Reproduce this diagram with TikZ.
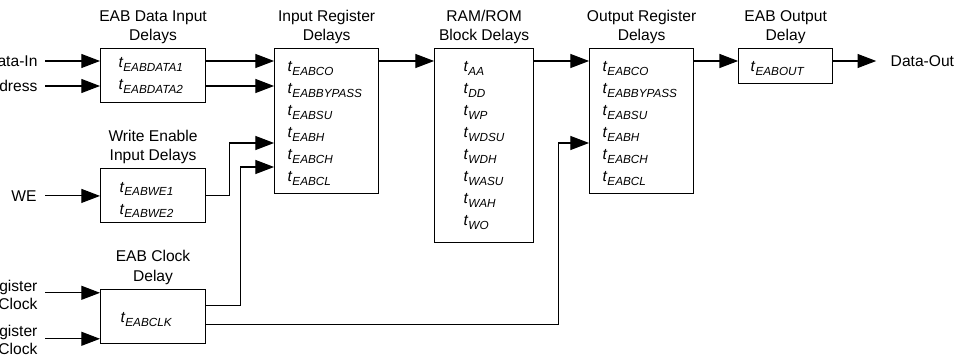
\documentclass[tikz,border=0pt]{standalone}
\usepackage{fontspec}
\setmainfont{Liberation Sans}
\usepackage{tikz}
\usetikzlibrary{arrows.meta, calc, positioning}

\newcommand{\tdel}[1]{\textit{t}\raisebox{-2.6pt}{\fontsize{8.8}{9}\selectfont\itshape #1}}

\tikzset{
  delaybox/.style={draw, inner sep=0pt},
  boxtitle/.style={align=center, inner sep=0pt, font=\fontsize{11.7}{14.6}\selectfont},
  entry/.style={anchor=base west, inner sep=0pt, font=\fontsize{11.7}{14}\selectfont},
  sig/.style={anchor=east, inner sep=0pt, align=right, font=\fontsize{11.7}{13.5}\selectfont},
}

\begin{document}
\begin{tikzpicture}[x=0.75pt, y=-0.75pt, >={Triangle[length=14pt,width=10.5pt]}, line width=0.8pt]
\useasboundingbox (0,0) rectangle (957,359);
\clip (0,0) rectangle (957,359);

\node[delaybox, anchor=north west, minimum width=78.75pt, minimum height=40.5pt] (dat) at (100,48) {};
\node[delaybox, below=49pt of dat, minimum width=78.75pt, minimum height=40.5pt] (we) {};
\node[delaybox, below=49pt of we, minimum width=78.75pt, minimum height=40.5pt] (clk) {};
\node[delaybox, below right=0pt and 51pt of dat.north east, minimum width=78pt, minimum height=108.75pt] (inreg) {};
\node[delaybox, below right=0pt and 41.2pt of inreg.north east, minimum width=74.25pt, minimum height=145.5pt] (ram) {};
\node[delaybox, below right=0pt and 41.2pt of ram.north east, minimum width=78pt, minimum height=108.75pt] (outreg) {};
\node[delaybox, below right=0pt and 33pt of outreg.north east, minimum width=70.5pt, minimum height=26.25pt] (eabout) {};

\node[boxtitle, above=2.75pt of dat] (dat-t) {EAB Data Input\\Delays};
\node[boxtitle, above=2.75pt of we] (we-t) {Write Enable\\Input Delays};
\node[boxtitle, above=2.75pt of clk] (clk-t) {EAB Clock\\Delay};
\node[boxtitle, above=2.75pt of inreg] (inreg-t) {Input Register\\Delays};
\node[boxtitle, above=2.75pt of ram] (ram-t) {RAM/ROM\\Block Delays};
\node[boxtitle, above=2.75pt of outreg] (outreg-t) {Output Register\\Delays};
\node[boxtitle, above=2.75pt of eabout] (eabout-t) {EAB Output\\Delay};

\foreach \s [count=\i] in {EABDATA1, EABDATA2}
  \node[entry] (dat-\i) at ($(dat.north west)+(18,{-2+22*\i})$) {\tdel{\s}};
\foreach \s [count=\i] in {EABWE1, EABWE2}
  \node[entry] (we-\i) at ($(we.north west)+(19,{2+22*\i})$) {\tdel{\s}};
\node[entry] (clk-1) at ($(clk.north west)+(20,34)$) {\tdel{EABCLK}};
\foreach \s [count=\i] in {EABCO, EABBYPASS, EABSU, EABH, EABCH, EABCL}
  \node[entry] (inreg-\i) at ($(inreg.north west)+(13,{2+22*\i})$) {\tdel{\s}};
\foreach \s [count=\i] in {AA, DD, WP, WDSU, WDH, WASU, WAH, WO}
  \node[entry] (ram-\i) at ($(ram.north west)+(29,{2+22*\i})$) {\tdel{\s}};
\foreach \s [count=\i] in {EABCO, EABBYPASS, EABSU, EABH, EABCH, EABCL}
  \node[entry] (outreg-\i) at ($(outreg.north west)+(13,{2+22*\i})$) {\tdel{\s}};
\node[entry] (eabout-1) at ($(eabout.north west)+(12,24)$) {\tdel{EABOUT}};

% arrow levels
\coordinate (dat-a) at ($(dat.north west)+(0,13)$);
\coordinate (dat-b) at ($(dat.north west)+(0,38)$);
\coordinate (clk-a) at ($(clk.north west)+(0,4)$);
\coordinate (clk-b) at ($(clk.north west)+(0,50)$);
\coordinate (ir-we) at ($(inreg.north west)+(0,95)$);
\coordinate (ir-clk) at ($(inreg.north west)+(0,119)$);
\coordinate (or-clk) at ($(outreg.north west)+(0,95)$);

\node[sig] (din) at ($(dat-a)+(-62,0)$) {Data-In};
\node[sig] (addr) at ($(dat-b)+(-62,0)$) {Address};
\node[sig] (wein) at ($(we.west)+(-63,0)$) {WE};
\node[sig] (iclk) at ($(clk-a)+(-62,2)$) {Input Register\\Clock};
\node[sig] (oclk) at ($(clk-b)+(-62,1)$) {Output Register\\Clock};
\node[sig, anchor=west] (dout) at ($(dat-a -| eabout.east)+(57,0)$) {Data-Out};

\draw[->] ($(din.east)+(7,0)$) -- (dat-a);
\draw[->] ($(addr.east)+(7,0)$) -- (dat-b);
\draw[->] ($(wein.east)+(8,0)$) -- (we.west);
\draw[->] ($(iclk.east |- clk-a)+(7,0)$) -- (clk-a);
\draw[->] ($(oclk.east |- clk-b)+(7,0)$) -- (clk-b);

\draw[->] (dat-a -| dat.east) -- (dat-a -| inreg.west);
\draw[->] (dat-b -| dat.east) -- (dat-b -| inreg.west);
\draw[->] (dat-a -| inreg.east) -- (dat-a -| ram.west);
\draw[->] (dat-a -| ram.east) -- (dat-a -| outreg.west);
\draw[->] (dat-a -| outreg.east) -- (dat-a -| eabout.west);
\draw[->] (dat-a -| eabout.east) -- ($(dout.west)+(-14,0)$);

\draw[->] (we.east) -- ++(23,0) |- (ir-we);
\draw[->] ($(clk.north east)+(0,17)$) -- ++(34,0) |- (ir-clk);
\draw[->] ($(clk.north east)+(0,36)$) -| ($(or-clk)+(-31,0)$) -- (or-clk);
\end{tikzpicture}
\end{document}
